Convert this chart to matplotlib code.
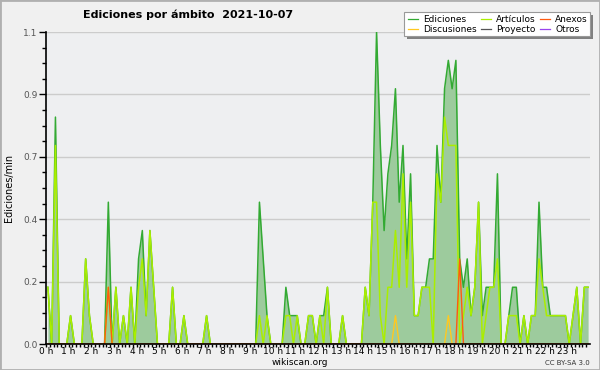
import numpy as np
import matplotlib
matplotlib.use('Agg')
import matplotlib.pyplot as plt
from matplotlib.lines import Line2D
from matplotlib.patches import Rectangle

# ediciones por minuto, un valor cada 10 minutos (144 intervalos)
ediciones = [
    0.2, 0, 0.8, 0, 0, 0, 0.1, 0, 0, 0, 0.3, 0.1,
    0, 0, 0, 0, 0.5, 0, 0.2, 0, 0.1, 0, 0.2, 0,
    0.3, 0.4, 0.1, 0.4, 0.2, 0, 0, 0, 0, 0.2, 0, 0,
    0.1, 0, 0, 0, 0, 0, 0.1, 0, 0, 0, 0, 0,
    0, 0, 0, 0, 0, 0, 0, 0, 0.5, 0.3, 0.1, 0,
    0, 0, 0, 0.2, 0.1, 0.1, 0.1, 0, 0, 0.1, 0.1, 0,
    0.1, 0.1, 0.2, 0, 0, 0, 0.1, 0, 0, 0, 0, 0,
    0.2, 0.1, 0.5, 1.1, 0.7, 0.4, 0.6, 0.7, 0.9, 0.5, 0.7, 0.3,
    0.6, 0.1, 0.1, 0.2, 0.2, 0.3, 0.3, 0.7, 0.5, 0.9, 1.0, 0.9,
    1.0, 0.3, 0.2, 0.3, 0.1, 0.2, 0.5, 0.1, 0.2, 0.2, 0.2, 0.6,
    0, 0, 0.1, 0.2, 0.2, 0, 0.1, 0, 0.1, 0.1, 0.5, 0.2,
    0.2, 0.1, 0.1, 0.1, 0.1, 0.1, 0, 0.1, 0.2, 0, 0.2, 0.2,
]
articulos = [
    0.2, 0, 0.7, 0, 0, 0, 0.1, 0, 0, 0, 0.3, 0.1,
    0, 0, 0, 0, 0.2, 0, 0.2, 0, 0.1, 0, 0.2, 0,
    0.2, 0.3, 0.1, 0.4, 0.2, 0, 0, 0, 0, 0.2, 0, 0,
    0.1, 0, 0, 0, 0, 0, 0.1, 0, 0, 0, 0, 0,
    0, 0, 0, 0, 0, 0, 0, 0, 0.1, 0, 0.1, 0,
    0, 0, 0, 0.1, 0.1, 0, 0.1, 0, 0, 0.1, 0.1, 0,
    0.1, 0, 0.2, 0, 0, 0, 0.1, 0, 0, 0, 0, 0,
    0.2, 0.1, 0.5, 0.5, 0.1, 0, 0.2, 0.2, 0.4, 0.2, 0.6, 0.2,
    0.5, 0.1, 0.1, 0.2, 0.2, 0.2, 0, 0.6, 0.5, 0.8, 0.7, 0.7,
    0.7, 0, 0.1, 0.2, 0.1, 0.2, 0.5, 0, 0.1, 0.2, 0.2, 0.3,
    0, 0, 0.1, 0.1, 0.1, 0, 0.1, 0, 0.1, 0.1, 0.3, 0.2,
    0.1, 0.1, 0.1, 0.1, 0.1, 0.1, 0, 0.1, 0.2, 0, 0.2, 0.2,
]
# series casi vacias: intervalo -> valor
anexos_idx = [16, 109]
anexos_val = [0.2, 0.3]
discusiones_idx = [92, 106]
discusiones_val = [0.1, 0.1]

n = len(ediciones)
horas = (np.arange(n) + 0.5) / 6.0

def serie(idx, val):
    s = np.zeros(n)
    s[idx] = val
    return s

anexos = serie(anexos_idx, anexos_val)
discusiones = serie(discusiones_idx, discusiones_val)
proyecto = np.zeros(n)
otros = np.zeros(n)

W, H = 600, 370
def fx(px):
    return px / W
def fy(py):
    return 1 - py / H

c_edic = '#33aa33'
c_fill = '#9dcb9d'
c_art = '#aaee00'
c_anex = '#ff5a10'
c_disc = '#ffc820'
c_proy = '#555555'
c_otros = '#9944ee'

fig = plt.figure(figsize=(6, 3.7), dpi=100, facecolor='#f0f0f0')
fig.patches.append(Rectangle((0, 0), 1, 1, transform=fig.transFigure,
                             fill=False, edgecolor='#b0b0b0', lw=2))
ax = fig.add_axes([fx(46), fy(344), fx(590) - fx(46), fy(32) - fy(344)])
ax.set_facecolor('#eeeff1')

ax.fill_between(horas, ediciones, color=c_fill, lw=0, zorder=1)
ax.plot(horas, ediciones, color=c_edic, lw=1.1, zorder=2)
ax.plot(horas, proyecto, color=c_proy, lw=1.0, zorder=1.5)
ax.plot(horas, otros, color=c_otros, lw=1.0, zorder=1.5)
ax.plot(horas, articulos, color=c_art, lw=1.1, zorder=2.1)
ax.plot(horas, discusiones, color=c_disc, lw=1.0, zorder=2.2)
ax.plot(horas, anexos, color=c_anex, lw=1.0, zorder=2.2)

ax.set_xlim(0, 24)
ax.set_ylim(0, 1.1)

yt = np.arange(0, 1.11, 0.22)
ax.set_yticks(yt)
ax.set_yticklabels([f'{v:.1f}' for v in yt], fontsize=6.5, color='#555555')
ax.set_yticks(np.arange(0, 1.11, 0.055), minor=True)
ax.set_xticks(np.arange(0, 24))
ax.set_xticklabels([f'{h} h' for h in range(24)], fontsize=6.5)
ax.set_xticks(np.arange(0, 24, 1 / 6), minor=True)
ax.tick_params(axis='y', which='major', length=5, width=1, pad=1)
ax.tick_params(axis='y', which='minor', length=3, width=1)
ax.tick_params(axis='x', which='both', length=2.5, width=1, pad=0)
ax.grid(axis='y', color='#cccccc', lw=1)
ax.set_axisbelow(True)
for s in ['top', 'right']:
    ax.spines[s].set_visible(False)
for s in ['left', 'bottom']:
    ax.spines[s].set_linewidth(1.2)

ax.set_ylabel('Ediciones/min', fontsize=7, labelpad=7)
fig.text(fx(300), fy(362.5), 'wikiscan.org', fontsize=6.5, ha='center', va='center')
fig.text(fx(590), fy(363), 'CC BY-SA 3.0', fontsize=5, ha='right', va='center', color='#333333')
fig.text(fx(188), fy(15), 'Ediciones por ámbito  2021-10-07', fontsize=8,
         fontweight='bold', ha='center', va='center')

# leyenda
fig.patches.append(Rectangle((fx(407), fy(39)), fx(590) - fx(404), fy(12) - fy(36),
                             transform=fig.transFigure, facecolor='#808080', lw=0))
fig.patches.append(Rectangle((fx(404), fy(36)), fx(590) - fx(404), fy(12) - fy(36),
                             transform=fig.transFigure, facecolor='white',
                             edgecolor='#999999', lw=0.8))
entradas = [('Ediciones', c_edic), ('Artículos', c_art), ('Anexos', c_anex),
            ('Discusiones', c_disc), ('Proyecto', c_proy), ('Otros', c_otros)]
col_x = [408, 481, 540]
fila_y = [19, 29]
for k, (nombre, color) in enumerate(entradas):
    x0 = col_x[k % 3]
    y0 = fila_y[k // 3]
    fig.lines.append(Line2D([fx(x0), fx(x0 + 10)], [fy(y0), fy(y0)],
                            transform=fig.transFigure, color=color, lw=0.9))
    fig.text(fx(x0 + 15), fy(y0), nombre, fontsize=6.5, va='center', ha='left')

fig.savefig('out.png', dpi=100, facecolor=fig.get_facecolor())
